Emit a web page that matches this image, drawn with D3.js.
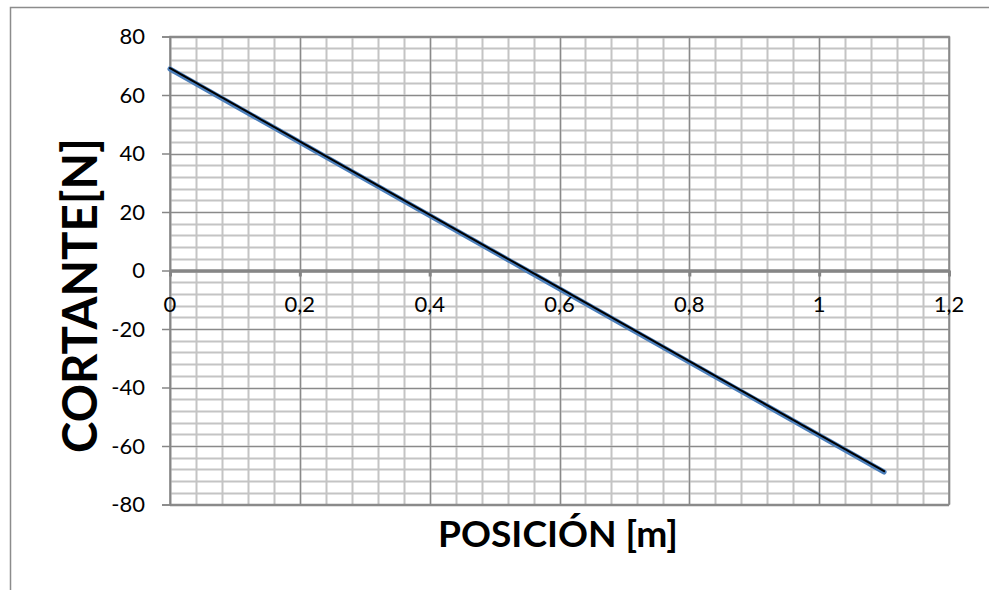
<!DOCTYPE html>
<html>
<head>
<meta charset="utf-8">
<script src="https://cdn.jsdelivr.net/npm/d3@7"></script>
<style>
  html, body { margin: 0; padding: 0; background: #fff; }
  svg { display: block; }
  text { font-family: Lato, "Open Sans", sans-serif; }
</style>
</head>
<body>
<svg id="chart" width="989" height="590"></svg>
<script>
// ---- data ----
const positions = [0, 0.55, 1.1];          // x [m]
const shear = [68.9, 0, -68.9];            // V [N]
const xTicks = [0, 0.2, 0.4, 0.6, 0.8, 1, 1.2];
const xTickLabels = ["0", "0,2", "0,4", "0,6", "0,8", "1", "1,2"];
const yTicks = [-80, -60, -40, -20, 0, 20, 40, 60, 80];
const yTickLabels = ["-80", "-60", "-40", "-20", "0", "20", "40", "60", "80"];
const xTitle = "POSICIÓN [m]";
const yTitle = "CORTANTE[N]";

// ---- layout ----
const svg = d3.select("#chart");
const x = d3.scaleLinear().domain([0, 1.2]).range([170, 949]);
const y = d3.scaleLinear().domain([-80, 80]).range([504.5, 36.5]);

// outer chart border (only top & left visible)
svg.append("rect").attr("x", 10.5).attr("y", 7.5).attr("width", 1000).attr("height", 600)
  .attr("fill", "none").attr("stroke", "#8c8c8c").attr("stroke-width", 1.5);

const g = svg.append("g");

// minor grid
const xMinor = d3.range(0, 1.2001, 0.04);
const yMinor = d3.range(-80, 80.001, 4);
g.selectAll(".vminor").data(xMinor).join("line")
  .attr("x1", d => Math.round(x(d)) + 0.5).attr("x2", d => Math.round(x(d)) + 0.5)
  .attr("y1", y(80)).attr("y2", y(-80))
  .attr("stroke", "#c4c4c4").attr("stroke-width", 2);
g.selectAll(".hminor").data(yMinor).join("line")
  .attr("y1", d => Math.round(y(d)) + 0.5).attr("y2", d => Math.round(y(d)) + 0.5)
  .attr("x1", x(0)).attr("x2", x(1.2))
  .attr("stroke", "#c4c4c4").attr("stroke-width", 2);

// major grid
g.selectAll(".vmajor").data(xTicks).join("line")
  .attr("x1", d => Math.round(x(d)) + 0.5).attr("x2", d => Math.round(x(d)) + 0.5)
  .attr("y1", y(80)).attr("y2", y(-80))
  .attr("stroke", "#8a8a8a").attr("stroke-width", 1.2);
g.selectAll(".hmajor").data(yTicks).join("line")
  .attr("y1", d => Math.round(y(d)) + 0.5).attr("y2", d => Math.round(y(d)) + 0.5)
  .attr("x1", x(0)).attr("x2", x(1.2))
  .attr("stroke", "#8a8a8a").attr("stroke-width", 1.2);

// plot border top/right/bottom
g.append("rect").attr("x", x(0)).attr("y", y(80)).attr("width", x(1.2) - x(0)).attr("height", y(-80) - y(80))
  .attr("fill", "none").attr("stroke", "#8a8a8a").attr("stroke-width", 1.5);

// y axis with ticks on the left
const yAxis = d3.axisLeft(y).tickValues(yTicks).tickSize(8).tickFormat("");
const ya = g.append("g").attr("transform", `translate(${x(0)},0)`).call(yAxis);
ya.selectAll("path, line").attr("stroke", "#868686").attr("stroke-width", 1.5);

// zero (x) axis with ticks downward
const xAxis = d3.axisBottom(x).tickValues(xTicks).tickSize(6).tickSizeOuter(0).tickFormat("");
const xa = g.append("g").attr("transform", `translate(0,${y(0)})`).call(xAxis);
xa.select("path").attr("stroke", "#868686").attr("stroke-width", 3.5);
xa.selectAll("line").attr("stroke", "#868686").attr("stroke-width", 3);

// series line: blue under, black on top
const pts = positions.map((p, i) => [p, shear[i]]);
const line = d3.line().x(d => x(d[0])).y(d => y(d[1]));
g.append("path").attr("d", line(pts)).attr("fill", "none")
  .attr("stroke", "#4a7ebb").attr("stroke-width", 5).attr("stroke-linecap", "round");
g.append("path").attr("d", line(pts)).attr("fill", "none")
  .attr("transform", "translate(0,-0.8)")
  .attr("stroke", "#000").attr("stroke-width", 2).attr("stroke-linecap", "round");

// tick labels
svg.selectAll(".ylab").data(yTicks).join("text")
  .attr("x", 145).attr("y", d => y(d)).attr("dy", "0.36em")
  .attr("text-anchor", "end").attr("font-size", 22).attr("fill", "#000")
  .text((d, i) => yTickLabels[i]);
svg.selectAll(".xlab").data(xTicks).join("text")
  .attr("x", d => x(d)).attr("y", 312)
  .attr("text-anchor", "middle").attr("font-size", 22).attr("fill", "#000")
  .text((d, i) => xTickLabels[i]);

// titles, fitted to reference extents
function fit(t, target) {
  const len = t.node().getComputedTextLength();
  const fs = parseFloat(t.attr("font-size"));
  t.attr("font-size", fs * target / len);
}
const xt = svg.append("text").attr("x", 558).attr("y", 547).attr("text-anchor", "middle")
  .attr("font-weight", "bold").attr("font-size", 32).attr("fill", "#000").text(xTitle);
fit(xt, 240);
const yt = svg.append("text").attr("transform", "translate(97,295.5) rotate(-90)").attr("text-anchor", "middle")
  .attr("font-weight", "bold").attr("font-size", 44).attr("fill", "#000").text(yTitle);
fit(yt, 315);
</script>
</body>
</html>
